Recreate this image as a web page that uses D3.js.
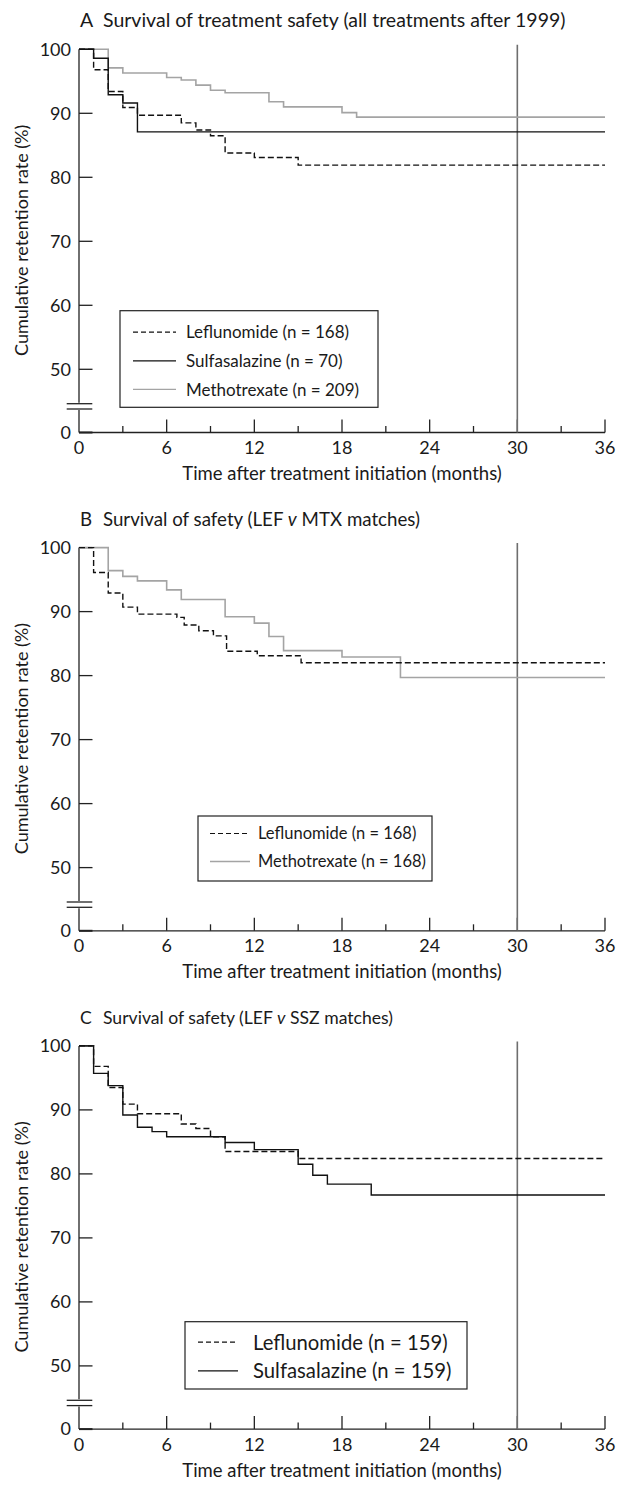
<!DOCTYPE html>
<html>
<head>
<meta charset="utf-8">
<script src="https://cdn.jsdelivr.net/npm/d3@7"></script>
<style>
  body { margin: 0; background: #fff; }
  svg text { font-family: Lato, "Open Sans", sans-serif; fill: #1a1a1a; }
</style>
</head>
<body>
<svg id="chart" width="624" height="1486"></svg>
<script>
"use strict";

// axis ticks
const monthTicks = [0, 6, 12, 18, 24, 30, 36];
const minorMonthTicks = [3, 9, 15, 21, 27, 33];
const retentionTicks = [50, 60, 70, 80, 90, 100];

// panel A - all treatments after 1999
const aLefTime = [0, 1, 2, 3, 4, 7, 8, 9, 10, 12, 15];
const aLefSurv = [100, 96.8, 93.4, 90.9, 89.7, 88.5, 87.4, 86.5, 83.8, 83.1, 81.9];
const aSszTime = [0, 1, 2, 3, 4];
const aSszSurv = [100, 98.6, 92.9, 91.6, 87.1];
const aMtxTime = [0, 2, 3, 6, 7, 8, 9, 10, 13, 14, 18, 19];
const aMtxSurv = [100, 97.1, 96.3, 95.6, 95.2, 94.4, 93.6, 93.2, 91.8, 91.0, 90.1, 89.4];

// panel B - LEF v MTX matches
const bLefTime = [0, 1, 2, 3, 4, 6.7, 7.2, 8.2, 9.2, 10.1, 12.2, 15.2];
const bLefSurv = [100, 96.1, 92.9, 90.7, 89.6, 89.1, 87.9, 87.0, 86.2, 83.8, 83.1, 82.0];
const bMtxTime = [0, 2, 3, 4, 6, 7, 10, 12, 13, 14, 18, 22];
const bMtxSurv = [100, 96.4, 95.5, 94.8, 93.4, 91.9, 89.2, 88.2, 86.1, 83.9, 82.9, 79.7];

// panel C - LEF v SSZ matches
const cLefTime = [0, 1, 2, 3, 4, 7, 8, 9, 10, 15];
const cLefSurv = [100, 96.8, 93.5, 90.9, 89.4, 87.8, 87.1, 85.8, 83.5, 82.4];
const cSszTime = [0, 1, 2, 3, 4, 5, 6, 10, 12, 15, 16, 17, 20];
const cSszSurv = [100, 95.7, 93.8, 89.2, 87.3, 86.6, 85.8, 84.9, 83.8, 81.5, 79.8, 78.4, 76.7];

const styles = {
    lef: { stroke: "#111", dash: "6,3", width: 1.4 },
    ssz: { stroke: "#111", dash: null, width: 1.4 },
    mtx: { stroke: "#a4a4a4", dash: null, width: 1.6 },
};

const panels = [
    {
        letter: "A",
        titleSize: 19.5,
        title: [{ t: "Survival of treatment safety (all treatments after 1999)" }],
        series: [
            { key: "lef", label: "Leflunomide (n = 168)", time: aLefTime, surv: aLefSurv },
            { key: "ssz", label: "Sulfasalazine (n = 70)", time: aSszTime, surv: aSszSurv },
            { key: "mtx", label: "Methotrexate (n = 209)", time: aMtxTime, surv: aMtxSurv },
        ],
        legend: { x: 120, y: 261.4, w: 258, h: 96.6, row: 28.6, first: 21.5, sx: 13, sw: 43, tx: 66, fs: 17 },
    },
    {
        letter: "B",
        titleSize: 18.7,
        title: [{ t: "Survival of safety (LEF " }, { t: "v", italic: true }, { t: " MTX matches)" }],
        series: [
            { key: "lef", label: "Leflunomide (n = 168)", time: bLefTime, surv: bLefSurv },
            { key: "mtx", label: "Methotrexate (n = 168)", time: bMtxTime, surv: bMtxSurv },
        ],
        legend: { x: 198, y: 268.4, w: 234, h: 65, row: 28, first: 17.5, sx: 12, sw: 40, tx: 60, fs: 16.5 },
    },
    {
        letter: "C",
        titleSize: 17.6,
        title: [{ t: "Survival of safety (LEF " }, { t: "v", italic: true }, { t: " SSZ matches)" }],
        series: [
            { key: "lef", label: "Leflunomide (n = 159)", time: cLefTime, surv: cLefSurv },
            { key: "ssz", label: "Sulfasalazine (n = 159)", time: cSszTime, surv: cSszSurv },
        ],
        legend: { x: 185, y: 275.8, w: 282, h: 67.3, row: 28.7, first: 20.5, sx: 13, sw: 40, tx: 68, fs: 20.3 },
    },
];

const svg = d3.select("#chart");

const panelTop = 49.3;
const panelStep = 498.3;
const plotH = 320;        // 100 -> 50
const breakTop = 354.4;
const breakBot = 359.7;
const zeroY = 383.2;

const x = d3.scaleLinear().domain([0, 36]).range([79, 605]);
const y = d3.scaleLinear().domain([50, 100]).range([plotH, 0]);

const stepLine = d3.line()
    .x(d => x(d[0]))
    .y(d => y(d[1]))
    .curve(d3.curveStepAfter);

panels.forEach((p, i) => {
    const g = svg.append("g")
        .attr("transform", `translate(0, ${panelTop + i * panelStep})`);

    // title
    g.append("text")
        .attr("x", 80).attr("y", -22)
        .attr("font-size", p.titleSize)
        .text(p.letter);
    const title = g.append("text")
        .attr("x", 103).attr("y", -22)
        .attr("font-size", p.titleSize);
    p.title.forEach(part => {
        title.append("tspan")
            .attr("font-style", part.italic ? "italic" : null)
            .text(part.t);
    });

    // y axis (broken)
    const axis = g.append("g").attr("stroke", "#222").attr("stroke-width", 1.3).attr("fill", "none");
    axis.append("line").attr("x1", x(0)).attr("x2", x(0)).attr("y1", y(100)).attr("y2", breakTop - 1);
    axis.append("line").attr("x1", x(0)).attr("x2", x(0)).attr("y1", breakBot + 1).attr("y2", zeroY);
    [breakTop, breakBot].forEach(by => {
        axis.append("line").attr("x1", 66.7).attr("x2", 92.3).attr("y1", by).attr("y2", by);
    });
    axis.selectAll("line.ytick")
        .data(retentionTicks)
        .join("line")
        .attr("class", "ytick")
        .attr("x1", x(0)).attr("x2", x(0) + 13.5)
        .attr("y1", d => y(d)).attr("y2", d => y(d));
    axis.append("line").attr("x1", x(0)).attr("x2", x(0) + 13.5).attr("y1", zeroY).attr("y2", zeroY)
        .attr("stroke-width", 2);

    // x axis
    axis.append("line").attr("x1", x(0)).attr("x2", x(36)).attr("y1", zeroY).attr("y2", zeroY);
    axis.selectAll("line.xmajor")
        .data(monthTicks.slice(1))
        .join("line")
        .attr("class", "xmajor")
        .attr("x1", d => x(d)).attr("x2", d => x(d))
        .attr("y1", zeroY).attr("y2", zeroY - 13);
    axis.selectAll("line.xminor")
        .data(minorMonthTicks)
        .join("line")
        .attr("class", "xminor")
        .attr("x1", d => x(d)).attr("x2", d => x(d))
        .attr("y1", zeroY).attr("y2", zeroY - 6.5);

    // tick labels
    g.selectAll("text.ylab")
        .data(retentionTicks)
        .join("text")
        .attr("class", "ylab")
        .attr("x", 71).attr("y", d => y(d) + 6.3)
        .attr("text-anchor", "end")
        .attr("font-size", 18)
        .text(d => d);
    g.append("text")
        .attr("x", 71).attr("y", zeroY + 6.3)
        .attr("text-anchor", "end")
        .attr("font-size", 18)
        .text("0");
    g.selectAll("text.xlab")
        .data(monthTicks)
        .join("text")
        .attr("class", "xlab")
        .attr("x", d => x(d)).attr("y", zeroY + 21.5)
        .attr("text-anchor", "middle")
        .attr("font-size", 18)
        .text(d => d);

    // axis titles
    g.append("text")
        .attr("x", 342).attr("y", zeroY + 47.5)
        .attr("text-anchor", "middle")
        .attr("font-size", 18.5)
        .text("Time after treatment initiation (months)");
    g.append("text")
        .attr("transform", `translate(28, 191) rotate(-90)`)
        .attr("text-anchor", "middle")
        .attr("font-size", 18)
        .text("Cumulative retention rate (%)");

    // 30 month reference line
    g.append("line")
        .attr("x1", x(30)).attr("x2", x(30))
        .attr("y1", y(100) - 4.5).attr("y2", zeroY)
        .attr("stroke", "#6e6e6e").attr("stroke-width", 1.6);

    // survival curves (grey drawn first)
    const ordered = p.series.slice().sort((a, b) => (a.key === "mtx" ? -1 : 0) - (b.key === "mtx" ? -1 : 0));
    g.selectAll("path.curve")
        .data(ordered)
        .join("path")
        .attr("class", "curve")
        .attr("fill", "none")
        .attr("stroke", d => styles[d.key].stroke)
        .attr("stroke-width", d => styles[d.key].width)
        .attr("stroke-dasharray", d => styles[d.key].dash)
        .attr("d", d => {
            const pts = d.time.map((t, k) => [t, d.surv[k]]);
            pts.push([36, d.surv[d.surv.length - 1]]);
            return stepLine(pts);
        });

    // legend
    const L = p.legend;
    const lg = g.append("g").attr("transform", `translate(${L.x}, ${L.y})`);
    lg.append("rect")
        .attr("width", L.w).attr("height", L.h)
        .attr("fill", "#fff").attr("stroke", "#222").attr("stroke-width", 1.2);
    const rows = lg.selectAll("g.row")
        .data(p.series)
        .join("g")
        .attr("class", "row")
        .attr("transform", (d, k) => `translate(0, ${L.first + k * L.row})`);
    rows.append("line")
        .attr("x1", L.sx).attr("x2", L.sx + L.sw)
        .attr("stroke", d => styles[d.key].stroke)
        .attr("stroke-width", d => d.key === "mtx" ? 1.4 : 1.2)
        .attr("stroke-dasharray", d => d.key === "lef" ? "5,3" : null);
    rows.append("text")
        .attr("x", L.tx).attr("y", L.fs * 0.36)
        .attr("font-size", L.fs)
        .text(d => d.label);
});
</script>
</body>
</html>
